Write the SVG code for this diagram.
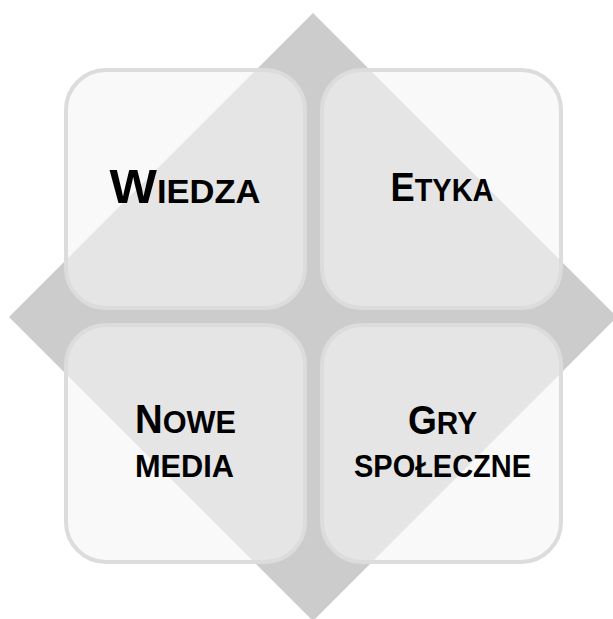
<svg xmlns="http://www.w3.org/2000/svg" width="613" height="619" viewBox="0 0 613 619">
<style>
.box{fill:#f5f5f5;fill-opacity:0.6;stroke:#dcdcdc;stroke-width:4}
.t{font-family:"Liberation Sans","DejaVu Sans",sans-serif;font-weight:bold;fill:#000;text-anchor:middle}
.s{font-size:32px}
</style>
<rect width="613" height="619" fill="#fff"/>
<polygon id="diamond" points="313,13 617,317 313,621 9,317" fill="#cccccc"/>
<g id="wiedza">
<rect class="box" x="66" y="70" width="239" height="238" rx="40"/>
<text class="t" x="185" y="203" textLength="151" lengthAdjust="spacingAndGlyphs"><tspan font-size="48">W</tspan><tspan font-size="33">IEDZA</tspan></text>
</g>
<g id="etyka">
<rect class="box" x="322" y="70" width="239" height="238" rx="40"/>
<text class="t" x="442" y="201" textLength="103" lengthAdjust="spacingAndGlyphs"><tspan font-size="40">E</tspan><tspan class="s">TYKA</tspan></text>
</g>
<g id="nowe-media">
<rect class="box" x="66" y="325" width="239" height="237" rx="40"/>
<text class="t" x="185.5" y="433" textLength="101" lengthAdjust="spacingAndGlyphs"><tspan font-size="40">N</tspan><tspan class="s">OWE</tspan></text>
<text class="t s" x="184.5" y="477" textLength="99" lengthAdjust="spacingAndGlyphs">MEDIA</text>
</g>
<g id="gry-spoleczne">
<rect class="box" x="322" y="325" width="239" height="237" rx="40"/>
<text class="t" x="442.5" y="434" textLength="69" lengthAdjust="spacingAndGlyphs"><tspan font-size="40">G</tspan><tspan class="s">RY</tspan></text>
<text class="t s" x="442.5" y="477" textLength="177" lengthAdjust="spacingAndGlyphs">SPOŁECZNE</text>
</g>
<g id="connectors"/>
</svg>
